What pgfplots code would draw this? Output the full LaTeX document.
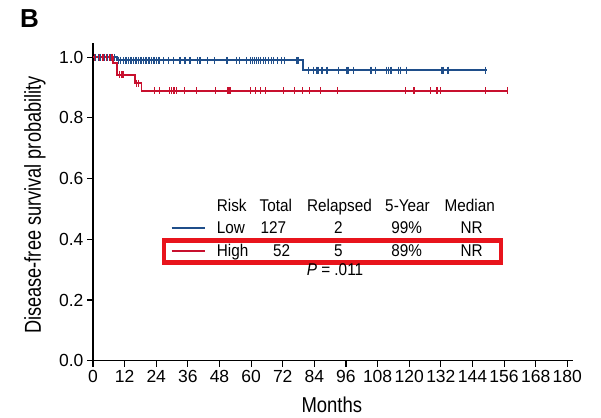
\documentclass[border=0pt]{standalone}
\usepackage{fontspec}
\setmainfont{Liberation Sans}
\newfontfamily\ylabfont[FakeStretch=0.79]{Liberation Sans}
\newfontfamily\xlabfont[FakeStretch=0.86]{Liberation Sans}
\newfontfamily\tabfont[FakeStretch=0.9]{Liberation Sans}
\usepackage{pgfplots}
\pgfplotsset{compat=1.18}
\definecolor{kmblue}{RGB}{31,78,138}
\definecolor{kmred}{RGB}{200,16,46}
\definecolor{boxred}{RGB}{232,20,28}
\newcommand{\tf}{\tabfont\fontsize{17}{19}\selectfont}
\begin{document}
\begin{tikzpicture}[x=1pt,y=1pt]
\path[use as bounding box] (0,0) rectangle (601,417);
\begin{axis}[
  at={(93pt,56.3pt)}, anchor=south west,
  scale only axis, width=479.6pt, height=317.7pt,
  xmin=0, xmax=182, ymin=0, ymax=1.047,
  axis lines=left,
  axis line style={-, line width=1.3pt, black},
  tick style={line width=1.1pt, black},
  tick align=outside, major tick length=6pt,
  xtick={0,12,24,36,48,60,72,84,96,108,120,132,144,156,168,180},
  ytick={0,0.2,0.4,0.6,0.8,1},
  /pgf/number format/assume math mode=true,
  yticklabel style={/pgf/number format/.cd, fixed, fixed zerofill, precision=1},
  ticklabel style={font=\fontsize{17.5}{20}\selectfont},
  xlabel={Months},
  ylabel={Disease-free survival probability},
  xlabel style={font=\xlabfont\fontsize{21.5}{24}\selectfont, at={(axis description cs:0.498,-0.139)}, anchor=center},
  ylabel style={font=\ylabfont\fontsize{23}{25}\selectfont, at={(axis description cs:-0.121,0.49)}, anchor=center},
  clip=false,
]
% Low risk
\addplot[kmblue, line width=1.9pt, const plot] coordinates {
(0,1) (9.0,0.990) (79.6,0.958) (149.5,0.958)};
\addplot[kmblue, only marks, mark=|, mark size=3.5pt, mark options={line width=1.1pt}] coordinates {
(1.0,1) (2.0,1) (3.0,1) (4.2,1) (5.5,1) (6.5,1) (7.5,1) (8.3,1)
(9.6,0.990) (10.5,0.990) (11.5,0.990) (12.3,0.990) (12.8,0.990) (13.5,0.990) (14.1,0.990) (14.7,0.990)
(15.3,0.990) (16.0,0.990) (16.6,0.990) (17.2,0.990) (17.9,0.990) (18.5,0.990) (19.1,0.990) (19.8,0.990)
(20.4,0.990) (21.0,0.990) (21.6,0.990) (22.3,0.990) (23.0,0.990) (23.5,0.990) (24.2,0.990) (24.8,0.990)
(25.4,0.990) (26.7,0.990) (28.6,0.990) (30.5,0.990) (33.0,0.990) (34.9,0.990) (36.8,0.990) (39.6,0.990)
(40.6,0.990) (43.5,0.990) (46.0,0.990) (50.8,0.990) (51.2,0.990) (54.6,0.990) (55.6,0.990) (58.4,0.990)
(59.8,0.990) (60.5,0.990) (61.3,0.990) (62.2,0.990) (62.8,0.990) (63.7,0.990) (64.7,0.990) (65.6,0.990)
(66.6,0.990) (67.6,0.990) (68.5,0.990) (70.1,0.990) (71.4,0.990) (72.6,0.990) (77.4,0.990) (78.0,0.990)
(81.8,0.958) (83.7,0.958) (84.7,0.958) (85.2,0.958) (85.6,0.958) (86.9,0.958) (88.8,0.958) (93.2,0.958)
(96.4,0.958) (96.8,0.958) (98.9,0.958) (105.2,0.958) (105.8,0.958) (107.1,0.958) (111.3,0.958) (112.2,0.958)
(113.1,0.958) (116.0,0.958) (116.6,0.958) (119.1,0.958) (132.2,0.958) (132.8,0.958) (134.7,0.958) (134.9,0.958)
(148.9,0.958)};
% High risk
\addplot[kmred, line width=1.9pt, const plot] coordinates {
(0,1) (7.7,0.981) (9.0,0.942) (16.0,0.914) (18.4,0.889) (157.4,0.889)};
\addplot[kmred, only marks, mark=|, mark size=3.5pt, mark options={line width=1.1pt}] coordinates {
(0.6,1) (2.5,1) (3.8,1) (5.1,1) (6.3,1) (7.2,1)
(10.1,0.942) (10.8,0.942) (11.4,0.942)
(16.6,0.914) (17.4,0.914)
(23.4,0.889) (25.3,0.889) (29.1,0.889) (29.7,0.889) (30.4,0.889) (31.0,0.889) (31.6,0.889) (34.8,0.889)
(39.2,0.889) (46.6,0.889) (51.0,0.889) (51.6,0.889) (52.2,0.889) (59.6,0.889) (61.8,0.889) (63.4,0.889)
(65.3,0.889) (72.3,0.889) (76.5,0.889) (79.6,0.889) (82.2,0.889) (86.2,0.889) (92.8,0.889) (118.7,0.889)
(121.8,0.889) (128.0,0.889) (130.2,0.889) (130.7,0.889) (132.0,0.889) (148.9,0.889) (157.4,0.889)};
\end{axis}
% panel letter
\node[font=\fontsize{26}{28}\selectfont\bfseries] at (29.5,398) {B};
% table
\node[font=\tf, anchor=base west] at (213.3,205.3) {Risk};
\node[font=\tf, anchor=base] at (275.8,205.3) {Total};
\node[font=\tf, anchor=base] at (339.5,205.3) {Relapsed};
\node[font=\tf, anchor=base] at (407.5,205.3) {5-Year};
\node[font=\tf, anchor=base] at (469.7,205.3) {Median};
\draw[kmblue, line width=1.9pt] (171.7,188.7) -- (205,188.7);
\node[font=\tf, anchor=base west] at (213.3,183.7) {Low};
\node[font=\tf, anchor=base] at (273.3,183.7) {127};
\node[font=\tf, anchor=base] at (338.3,183.7) {2};
\node[font=\tf, anchor=base] at (406.7,183.7) {99\%};
\node[font=\tf, anchor=base] at (471.7,183.7) {NR};
\draw[kmred, line width=1.9pt] (171.7,166.3) -- (205,166.3);
\node[font=\tf, anchor=base west] at (213.3,160.3) {High};
\node[font=\tf, anchor=base] at (281.7,160.3) {52};
\node[font=\tf, anchor=base] at (338.3,160.3) {5};
\node[font=\tf, anchor=base] at (406.7,160.3) {89\%};
\node[font=\tf, anchor=base] at (471.7,160.3) {NR};
\draw[boxred, line width=4.5pt] (164,154.5) rectangle (501,176.5);
\node[font=\tf, anchor=base] at (335,141) {{\itshape P} = .011};
\end{tikzpicture}
\end{document}
